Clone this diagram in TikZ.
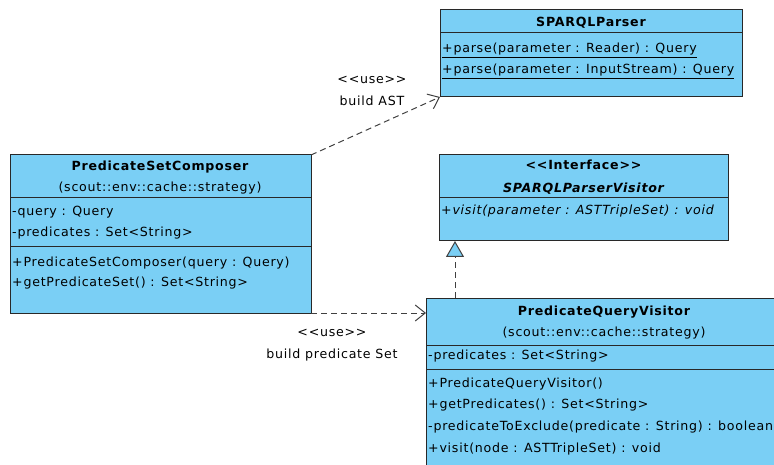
\documentclass[tikz,border=0pt]{standalone}
\usepackage{fontspec}
\setmainfont[LetterSpace=6]{DejaVu Sans}
\usetikzlibrary{arrows.meta}
\definecolor{boxblue}{RGB}{122,207,245}
\definecolor{boxline}{RGB}{40,40,40}
\definecolor{linkcol}{RGB}{64,64,64}
\definecolor{textcol}{RGB}{0,0,0}
\newcommand\stereo[1]{<{}<#1>{}>}
\begin{document}
\begin{tikzpicture}[x=1pt,y=-1pt,
  classbox/.style={draw=boxline, fill=boxblue, line width=1pt, inner sep=0pt,
    outer sep=0pt, anchor=north west, rectangle},
  sepline/.style={draw=boxline, line width=1pt},
  txt/.style={inner sep=0pt, text=textcol, font=\fontsize{12.6}{15}\selectfont},
  member/.style={txt, anchor=base west},
  title/.style={txt, anchor=base},
  uselink/.style={draw=linkcol, line width=1pt, dash pattern=on 6pt off 4pt,
    -{Straight Barb[length=10pt,width=16pt]}},
  realize/.style={draw=linkcol, line width=1pt, dash pattern=on 6pt off 4pt,
    -{Triangle[length=16pt,width=18pt,fill=boxblue]}}]
\useasboundingbox (0,0) rectangle (774,465);

% SPARQLParser
\node[classbox, minimum width=302pt, minimum height=87pt] (sp) at (440,10) {};
\draw[sepline] (sp.west |- 0,33) -- (sp.east |- 0,33);
\node[title] (spname) at (591,27) {\bfseries SPARQLParser};
\node[member] (spm1) at (442,53) {\underline{+parse(parameter : Reader) : Query}};
\node[member] (spm2) at (442,74) {\underline{+parse(parameter : InputStream) : Query}};

% PredicateSetComposer
\node[classbox, minimum width=301pt, minimum height=158pt] (psc) at (10,155) {};
\draw[sepline] (psc.west |- 0,198) -- (psc.east |- 0,198);
\draw[sepline] (psc.west |- 0,247) -- (psc.east |- 0,247);
\node[title] (pscname) at (160,171) {\bfseries PredicateSetComposer};
\node[title] (pscpkg) at (160,192) {(scout::env::cache::strategy)};
\node[member] (psca1) at (12,216) {-query : Query};
\node[member] (psca2) at (12,237) {-predicates : Set<String>};
\node[member] (pscm1) at (12,266) {+PredicateSetComposer(query : Query)};
\node[member] (pscm2) at (12,287) {+getPredicateSet() : Set<String>};

% SPARQLParserVisitor
\node[classbox, minimum width=289pt, minimum height=86pt] (iface) at (439,155) {};
\draw[sepline] (iface.west |- 0,198) -- (iface.east |- 0,198);
\node[title] (ifst) at (583.5,170) {\bfseries \stereo{Interface}};
\node[title] (ifname) at (583.5,193) {\bfseries\itshape SPARQLParserVisitor};
\node[member] (ifm1) at (441,215) {\itshape +visit(parameter : ASTTripleSet) : void};

% PredicateQueryVisitor
\node[classbox, minimum width=356pt, minimum height=182pt] (pqv) at (426,298) {};
\draw[sepline] (pqv.west |- 0,345) -- (pqv.east |- 0,345);
\draw[sepline] (pqv.west |- 0,369) -- (pqv.east |- 0,369);
\node[title] (pqvname) at (604,315) {\bfseries PredicateQueryVisitor};
\node[title] (pqvpkg) at (604,336) {(scout::env::cache::strategy)};
\node[member] (pqva1) at (428,359) {-predicates : Set<String>};
\node[member] (pqvm1) at (428,387) {+PredicateQueryVisitor()};
\node[member] (pqvm2) at (428,408) {+getPredicates() : Set<String>};
\node[member] (pqvm3) at (428,430) {-predicateToExclude(predicate : String) : boolean};
\node[member] (pqvm4) at (428,452) {+visit(node : ASTTripleSet) : void};

% dependencies
\draw[uselink] (psc.north east) -- (sp.south west);
\node[title] (u1st) at (372,84) {\stereo{use}};
\node[title] (u1lb) at (372,106) {build AST};

\draw[uselink] (psc.south east) -- (pqv.west |- psc.south east);
\node[title] (u2st) at (332,336) {\stereo{use}};
\node[title] (u2lb) at (332,358) {build predicate Set};

% realization
\coordinate (gfoot) at (455,298);
\draw[realize] (gfoot) -- (gfoot |- iface.south);
\end{tikzpicture}
\end{document}
